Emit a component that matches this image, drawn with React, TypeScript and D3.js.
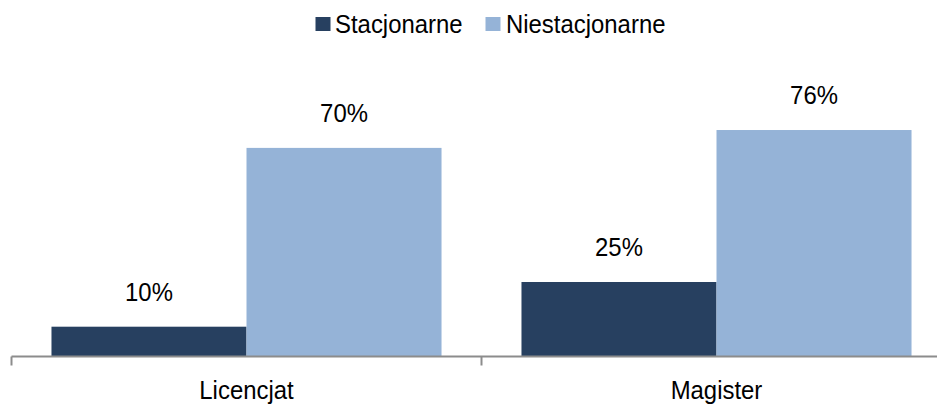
import React from "react";
import * as d3 from "d3";

const categories = ["Licencjat", "Magister"];
const series = ["Stacjonarne", "Niestacjonarne"];
const stacjonarne = [10, 25];
const niestacjonarne = [70, 76];
const seriesValues = [stacjonarne, niestacjonarne];
const colors = ["#274060", "#95B3D7"];

const W = 937;
const H = 407;
const FONT = "'Liberation Sans', Arial, sans-serif";
const SX = 0.92;
const FS = 26;

function T({ x, y, anchor, children }: { x: number; y: number; anchor?: string; children: React.ReactNode }) {
  return (
    <text transform={`translate(${x},${y}) scale(${SX},1)`} textAnchor={anchor || "start"} fontSize={FS} fill="#000">
      {children}
    </text>
  );
}

export default function App() {
  const x0 = d3.scaleBand<string>().domain(categories).range([11.5, 951.5]).paddingInner(0).paddingOuter(0);
  const x1 = d3.scaleBand<string>().domain(series).range([0, x0.bandwidth()]).paddingInner(0).paddingOuter(0.205);
  const y = d3.scaleLinear().domain([0, 100]).range([356.5, 58.5]);
  const base = y(0);
  const ticks = [...categories.map((c) => x0(c)!), x0.range()[1]];

  return (
    <svg width={W} height={H} style={{ position: "absolute", left: 0, top: 0, background: "#fff" }} fontFamily={FONT}>
      {/* legend */}
      <g>
        <rect x={315.5} y={17} width={15} height={14} fill={colors[0]} />
        <T x={335} y={32.5}>{series[0]}</T>
        <rect x={485.5} y={17} width={15} height={14} fill={colors[1]} />
        <T x={506} y={32.5}>{series[1]}</T>
      </g>
      {/* bars */}
      {categories.map((c, ci) => (
        <g key={c} transform={`translate(${x0(c)},0)`}>
          {series.map((s, si) => {
            const v = seriesValues[si][ci];
            const bx = x1(s)!;
            return (
              <g key={s}>
                <rect x={bx} y={y(v)} width={x1.bandwidth()} height={base - y(v)} fill={colors[si]} />
                <T x={bx + x1.bandwidth() / 2} y={y(v) - 26} anchor="middle">
                  {d3.format(".0f")(v)}%
                </T>
              </g>
            );
          })}
        </g>
      ))}
      {/* axis */}
      <line x1={ticks[0]} x2={W} y1={base} y2={base} stroke="#8c8c8c" strokeWidth={2} />
      {ticks.map((t, i) => (
        <line key={i} x1={t} x2={t} y1={base} y2={base + 9} stroke="#8c8c8c" strokeWidth={2} />
      ))}
      {categories.map((c) => (
        <T key={c} x={x0(c)! + x0.bandwidth() / 2} y={399} anchor="middle">
          {c}
        </T>
      ))}
    </svg>
  );
}
